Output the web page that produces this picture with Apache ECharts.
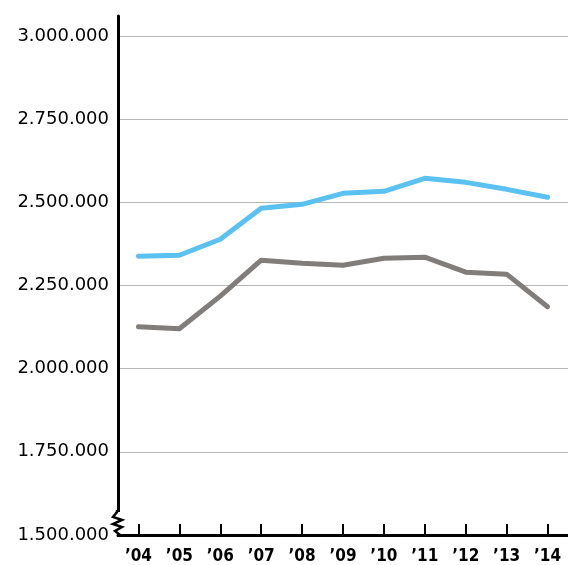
<!DOCTYPE html>
<html>
<head>
<meta charset="utf-8">
<script src="https://cdn.jsdelivr.net/npm/echarts@6/dist/echarts.min.js"></script>
<style>
  html, body { margin: 0; padding: 0; background: #fff; }
  #chart { width: 568px; height: 565px; }
</style>
</head>
<body>
<div id="chart"></div>
<script>
// Yearly totals, 2004–2014
const years = ['’04', '’05', '’06', '’07', '’08', '’09', '’10', '’11', '’12', '’13', '’14'];
const blueSeries = [2338000, 2341000, 2389000, 2482000, 2494000, 2527000, 2533000, 2572000, 2560000, 2539000, 2515000];
const greySeries = [2126000, 2120000, 2218000, 2326000, 2317000, 2311000, 2332000, 2335000, 2290000, 2284000, 2186000];
const yMin = 1500000;
const yStep = 250000;

const chart = echarts.init(document.getElementById('chart'));

function fmt(v) {
  return String(v).replace(/\B(?=(\d{3})+(?!\d))/g, '.');
}

chart.setOption({
  animation: false,
  grid: { left: 118, right: 0, top: 16, bottom: 29, containLabel: false },
  xAxis: {
    type: 'category',
    data: years,
    boundaryGap: true,
    axisLine: { show: true, lineStyle: { color: '#000', width: 3 } },
    axisTick: { show: true, inside: true, alignWithLabel: true, length: 11, lineStyle: { color: '#000', width: 2 } },
    axisLabel: {
      margin: 13,
      color: '#000',
      fontFamily: 'DejaVu Sans Condensed',
      fontWeight: 'bold',
      fontSize: 17
    },
    splitLine: { show: false }
  },
  yAxis: {
    type: 'value',
    min: yMin,
    max: 3060000,
    interval: yStep,
    axisLine: { show: true, lineStyle: { color: '#000', width: 3 } },
    axisTick: { show: false },
    axisLabel: {
      margin: 9,
      color: '#000',
      fontFamily: 'DejaVu Sans',
      fontSize: 18,
      showMaxLabel: false,
      formatter: function (v) { return v % yStep === 0 ? fmt(v) : ''; }
    },
    splitLine: { show: true, showMinLine: false, showMaxLine: false, lineStyle: { color: '#b8b8b8', width: 1 } }
  },
  series: [
    {
      type: 'line',
      data: blueSeries,
      symbol: 'none',
      lineStyle: { color: '#5bc1f0', width: 5, cap: 'round', join: 'round' },
      z: 3
    },
    {
      type: 'line',
      data: greySeries,
      symbol: 'none',
      lineStyle: { color: '#817d7b', width: 5, cap: 'round', join: 'round' },
      z: 3
    }
  ],
  graphic: [
    // axis break marker near the bottom of the value axis
    { type: 'rect', shape: { x: 112, y: 512, width: 12, height: 22 }, style: { fill: '#fff' }, z: 10 },
    {
      type: 'polyline',
      shape: { points: [[117, 510], [117, 512], [113, 517], [122, 520], [113, 524], [122, 527], [115, 531], [120, 535]] },
      style: { stroke: '#000', lineWidth: 2.5, fill: null },
      z: 11
    }
  ]
});
</script>
</body>
</html>
